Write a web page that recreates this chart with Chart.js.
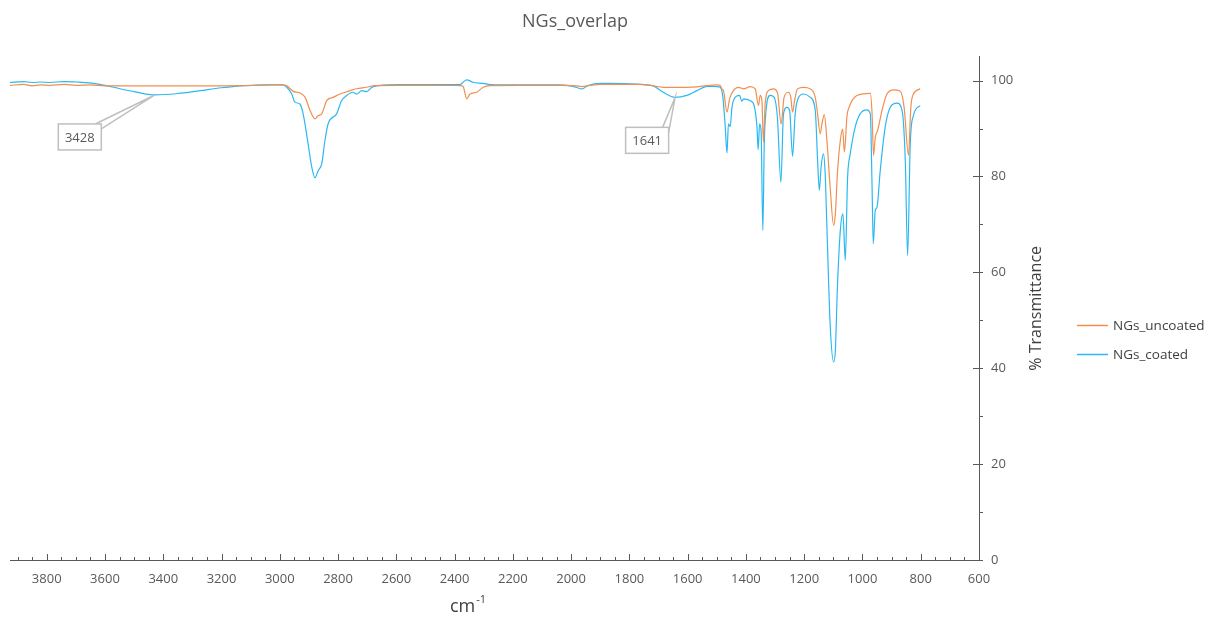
<!DOCTYPE html>
<html>
<head>
  <meta charset="UTF-8">
  <title>NGs_overlap</title>
  <script src="https://cdn.jsdelivr.net/npm/chart.js"></script>
  <style>
    body { margin: 0; background: #ffffff; }
    #wrap { width: 1210px; height: 618px; }
  </style>
</head>
<body>
  <div id="wrap"><canvas id="myChart" width="1210" height="618"></canvas></div>

  <script>
    // wavenumbers (cm-1) and % transmittance
    const uncoatedWn = [3926, 3880, 3850, 3820, 3789, 3740, 3700, 3652, 3600, 3549,
      3429, 3274, 3120, 3034, 2989, 2976, 2955, 2931, 2913, 2896,
      2879, 2868, 2856, 2839, 2817, 2793, 2759, 2736, 2702, 2673,
      2587, 2484, 2381, 2371, 2358, 2347, 2324, 2302, 2278, 2175,
      2038, 1983, 1963, 1942, 1900, 1866, 1763, 1718, 1684, 1643,
      1603, 1568, 1534, 1500, 1488, 1483, 1477, 1465, 1456, 1443,
      1426, 1408, 1385, 1368, 1357, 1351, 1345, 1340, 1334, 1323,
      1305, 1292, 1279, 1269, 1254, 1246, 1240, 1233, 1223, 1202,
      1179, 1162, 1154, 1145, 1139, 1131, 1122, 1111, 1099, 1093,
      1086, 1076, 1068, 1062, 1053, 1048, 1019, 973, 967, 962,
      956, 948, 933, 916, 893, 870, 857, 842, 834, 825,
      802];
    const uncoatedT = [99.0, 99.2, 98.9, 99.1, 99.0, 99.2, 99.0, 99.1, 98.9, 98.9,
      98.9, 98.9, 98.95, 99.1, 99.1, 98.9, 97.8, 97.4, 96.5, 93.75,
      92.0, 92.7, 93.06, 95.8, 96.5, 97.2, 97.9, 98.3, 98.6, 98.96,
      99.0, 99.0, 98.96, 98.8, 96.2, 97.2, 97.56, 98.6, 98.96, 99.0,
      99.0, 98.9, 98.75, 98.9, 99.2, 99.2, 99.2, 98.9, 98.6, 98.6,
      98.6, 98.7, 98.96, 99.1, 98.96, 98.3, 97.9, 93.4, 96.2, 97.9,
      98.6, 98.27, 98.75, 98.27, 94.8, 96.9, 95.8, 87.1, 95.1, 97.9,
      98.27, 97.56, 90.98, 96.5, 97.56, 96.5, 93.4, 95.8, 98.27, 98.6,
      98.27, 96.5, 93.06, 88.9, 90.98, 92.9, 87.5, 77.8, 69.8, 72.2,
      80.6, 87.5, 89.9, 85.1, 92.7, 94.1, 96.9, 97.35, 93.06, 84.4,
      88.2, 89.6, 93.75, 97.2, 98.06, 97.77, 94.4, 84.4, 94.4, 97.2,
      98.27];

    const coatedWn = [3926, 3880, 3850, 3820, 3789, 3740, 3700, 3652, 3600, 3549,
      3500, 3429, 3350, 3274, 3200, 3120, 3034, 2989, 2976, 2959,
      2948, 2931, 2920, 2903, 2890, 2879, 2868, 2856, 2845, 2834,
      2805, 2788, 2770, 2749, 2736, 2719, 2702, 2684, 2662, 2587,
      2484, 2381, 2371, 2358, 2337, 2302, 2278, 2175, 2038, 2003,
      1983, 1963, 1942, 1900, 1866, 1763, 1718, 1684, 1643, 1603,
      1568, 1534, 1500, 1488, 1479, 1471, 1465, 1460, 1454, 1448,
      1433, 1422, 1414, 1408, 1385, 1372, 1362, 1358, 1353, 1348,
      1342, 1337, 1331, 1317, 1303, 1292, 1280, 1271, 1259, 1250,
      1240, 1231, 1219, 1202, 1179, 1162, 1154, 1148, 1142, 1134,
      1128, 1122, 1111, 1099, 1093, 1086, 1076, 1067, 1059, 1051,
      1042, 1025, 1008, 985, 973, 967, 963, 956, 950, 939,
      922, 905, 882, 864, 853, 845, 836, 825, 802];
    const coatedT = [99.6, 99.8, 99.6, 99.7, 99.6, 99.8, 99.7, 99.5, 99.0, 98.3,
      97.7, 97.0, 97.3, 97.9, 98.5, 98.96, 99.1, 99.1, 98.6, 97.2,
      95.5, 95.1, 93.1, 86.9, 81.9, 79.7, 81.25, 82.6, 87.5, 91.0,
      93.06, 95.8, 96.9, 97.56, 97.2, 97.9, 97.7, 98.6, 98.96, 99.17,
      99.17, 99.17, 99.65, 100.15, 99.65, 99.4, 99.17, 99.1, 99.1, 98.9,
      98.6, 98.27, 98.96, 99.4, 99.4, 99.2, 98.9, 97.56, 96.5, 96.9,
      97.9, 98.8, 98.75, 98.6, 96.5, 90.3, 84.9, 90.98, 90.4, 94.4,
      96.7, 96.9, 95.7, 96.2, 95.8, 94.8, 90.3, 85.6, 90.98, 89.6,
      68.75, 86.8, 93.75, 96.9, 96.5, 92.35, 78.8, 93.06, 94.4, 93.75,
      84.2, 93.06, 96.5, 97.2, 96.5, 93.75, 83.3, 77.1, 81.9, 84.7,
      80.6, 69.4, 49.3, 41.3, 43.75, 56.9, 68.75, 72.2, 62.5, 79.85,
      84.7, 90.3, 93.06, 93.9, 93.06, 77.8, 66.0, 72.9, 73.6, 81.25,
      90.3, 94.4, 95.3, 93.75, 83.3, 63.5, 86.8, 92.7, 94.8];

    const seriesNames = ['NGs_uncoated', 'NGs_coated'];
    const seriesColors = ['#F08F50', '#2BB8F2'];

    const xLabels = [3800, 3600, 3400, 3200, 3000, 2800, 2600, 2400, 2200, 2000, 1800, 1600, 1400, 1200, 1000, 800, 600];
    const yLabels = [0, 20, 40, 60, 80, 100];

    // peak callouts on the coated trace
    const calloutWn = [3428, 1641];
    const calloutText = ['3428', '1641'];
    const calloutShift = [[-75, 42], [-28, 43]];

    const FONT = "'Open Sans', 'Noto Sans', sans-serif";
    const GREY = '#595959';

    function toPoints(wn, t) {
      return wn.map((w, i) => ({ x: w, y: t[i] }));
    }

    const extras = {
      id: 'extras',
      afterDraw(chart) {
        const ctx = chart.ctx;
        const xs = chart.scales.x;
        const ys = chart.scales.y;
        const a = chart.chartArea;
        ctx.save();

        // tick marks
        ctx.strokeStyle = GREY;
        ctx.lineWidth = 1;
        xs.ticks.forEach(t => {
          if (t.value > 3900) return;
          const px = Math.round(xs.getPixelForValue(t.value)) + 0.5;
          const len = t.value % 200 === 0 ? 6 : 3;
          ctx.beginPath();
          ctx.moveTo(px, a.bottom);
          ctx.lineTo(px, a.bottom - len);
          ctx.stroke();
        });
        ys.ticks.forEach(t => {
          if (t.value > 100) return;
          const py = Math.round(ys.getPixelForValue(t.value)) + 0.5;
          ctx.beginPath();
          if (t.value % 20 === 0) {
            ctx.moveTo(a.right - 6, py);
          } else {
            ctx.moveTo(a.right, py);
          }
          ctx.lineTo(a.right + 4, py);
          ctx.stroke();
        });

        // callouts
        const meta = chart.getDatasetMeta(1);
        calloutWn.forEach((w, k) => {
          let best = 0;
          coatedWn.forEach((c, i) => {
            if (Math.abs(c - w) < Math.abs(coatedWn[best] - w)) best = i;
          });
          const p = meta.data[best];
          const bw = 43, bh = 26;
          const cx = p.x + calloutShift[k][0];
          const cy = p.y + calloutShift[k][1];
          const l = cx - bw / 2, t = cy - bh / 2;
          ctx.strokeStyle = '#BFBFBF';
          ctx.lineWidth = 1.5;
          ctx.beginPath();
          ctx.moveTo(l + bw, t + 5);
          ctx.lineTo(p.x, p.y);
          ctx.lineTo(l + bw - 6, t);
          ctx.stroke();
          ctx.fillStyle = '#ffffff';
          ctx.fillRect(l, t, bw, bh);
          ctx.strokeRect(l, t, bw, bh);
          ctx.fillStyle = GREY;
          ctx.font = '13px ' + FONT;
          ctx.textAlign = 'center';
          ctx.textBaseline = 'middle';
          ctx.fillText(calloutText[k], cx, cy + 1);
        });

        // y axis title
        ctx.save();
        ctx.translate(1036, (a.top + a.bottom) / 2);
        ctx.rotate(-Math.PI / 2);
        ctx.fillStyle = '#404040';
        ctx.font = '16px ' + FONT;
        ctx.textAlign = 'center';
        ctx.textBaseline = 'middle';
        ctx.fillText('% Transmittance', 0, 0);
        ctx.restore();

        // x axis title cm-1
        ctx.fillStyle = '#404040';
        ctx.textAlign = 'left';
        ctx.textBaseline = 'alphabetic';
        ctx.font = '18px ' + FONT;
        ctx.fillText('cm', 450, 612);
        const cmW = ctx.measureText('cm').width;
        ctx.font = '11px ' + FONT;
        ctx.fillText('-1', 450 + cmW + 1, 603);

        // legend
        seriesNames.forEach((n, i) => {
          const ly = 325 + i * 29;
          ctx.strokeStyle = seriesColors[i];
          ctx.lineWidth = 1.5;
          ctx.beginPath();
          ctx.moveTo(1077, ly + 0.5);
          ctx.lineTo(1108, ly + 0.5);
          ctx.stroke();
          ctx.fillStyle = '#404040';
          ctx.font = '13.5px ' + FONT;
          ctx.textAlign = 'left';
          ctx.textBaseline = 'middle';
          ctx.fillText(n, 1113, ly + 1);
        });

        ctx.restore();
      }
    };

    const data = {
      datasets: [{
        label: seriesNames[0],
        data: toPoints(uncoatedWn, uncoatedT),
        borderColor: seriesColors[0],
        borderWidth: 1.2,
        pointRadius: 0,
        fill: false,
        cubicInterpolationMode: 'monotone'
      }, {
        label: seriesNames[1],
        data: toPoints(coatedWn, coatedT),
        borderColor: seriesColors[1],
        borderWidth: 1.2,
        pointRadius: 0,
        fill: false,
        cubicInterpolationMode: 'monotone'
      }]
    };

    const options = {
      responsive: false,
      animation: false,
      layout: { padding: { left: 10, right: 70, top: 0, bottom: 0 } },
      plugins: {
        legend: { display: false },
        tooltip: { enabled: false },
        title: {
          display: true,
          text: 'NGs_overlap',
          color: GREY,
          font: { family: FONT, size: 18, weight: 'normal' },
          padding: { top: 11, bottom: 24 }
        }
      },
      scales: {
        x: {
          type: 'linear',
          reverse: true,
          min: 600,
          max: 3926,
          afterBuildTicks: s => {
            const t = [];
            for (let v = 600; v <= 3900; v += 50) t.push({ value: v });
            s.ticks = t;
          },
          afterFit: s => { s.height = 58; },
          grid: { display: true, drawOnChartArea: false, drawTicks: false },
          border: { display: true, color: GREY, width: 1 },
          ticks: {
            autoSkip: false,
            maxRotation: 0,
            padding: 11,
            color: GREY,
            font: { family: FONT, size: 13 },
            callback: v => xLabels.includes(v) ? String(v) : ''
          }
        },
        y: {
          type: 'linear',
          position: 'right',
          min: 0,
          max: 105,
          afterBuildTicks: s => {
            const t = [];
            for (let v = 0; v <= 100; v += 10) t.push({ value: v });
            s.ticks = t;
          },
          afterFit: s => { s.width = 161; },
          grid: { display: true, drawOnChartArea: false, drawTicks: false },
          border: { display: true, color: GREY, width: 1 },
          ticks: {
            padding: 12,
            color: GREY,
            font: { family: FONT, size: 13 },
            callback: v => yLabels.includes(v) ? String(v) : ''
          }
        }
      }
    };

    const ctx = document.getElementById('myChart').getContext('2d');
    const myChart = new Chart(ctx, {
      type: 'line',
      data: data,
      options: options,
      plugins: [extras]
    });
  </script>
</body>
</html>
